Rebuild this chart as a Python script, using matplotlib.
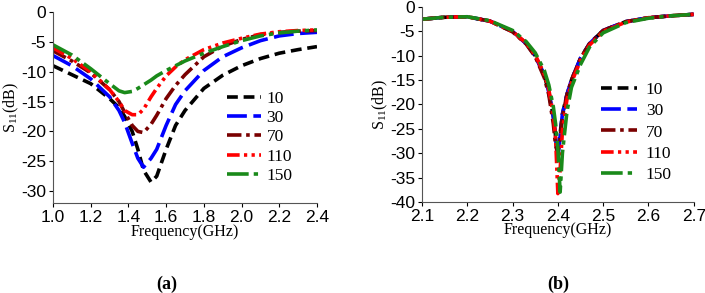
import matplotlib
matplotlib.use("Agg")
import matplotlib.pyplot as plt

# panel (a): S11 vs frequency for five parameter values
FREQ_A = [1.0, 1.1, 1.2, 1.3, 1.35, 1.38, 1.42, 1.45, 1.48, 1.52, 1.55, 1.6, 1.65,
          1.7, 1.8, 1.9, 2.0, 2.1, 2.2, 2.3, 2.4]
S11_A = {
    "10":  [-9.0, -10.5, -12.0, -14.5, -16.0, -17.5, -20.0, -23.0, -26.5, -28.5, -27.5,
            -23.0, -19.0, -16.5, -12.8, -10.6, -9.0, -7.8, -6.9, -6.3, -5.8],
    "30":  [-7.3, -9.0, -11.2, -14.2, -16.5, -18.5, -22.0, -24.5, -26.0, -24.5, -23.0,
            -19.0, -15.5, -13.2, -9.8, -7.5, -6.0, -4.8, -4.0, -3.6, -3.4],
    "70":  [-6.5, -8.2, -10.2, -13.0, -15.0, -16.8, -19.0, -20.0, -20.2, -18.8, -17.3,
            -14.5, -12.3, -10.5, -7.5, -5.7, -4.6, -3.8, -3.4, -3.2, -3.1],
    "110": [-6.0, -7.8, -10.0, -13.0, -15.0, -16.5, -17.2, -17.2, -16.3, -14.2, -12.8,
            -10.7, -9.2, -8.0, -6.3, -5.2, -4.4, -3.7, -3.3, -3.1, -3.0],
    "150": [-5.5, -7.2, -9.5, -12.0, -13.2, -13.5, -13.3, -12.8, -12.2, -11.4, -10.7,
            -9.8, -9.0, -8.2, -6.9, -5.8, -4.8, -4.0, -3.5, -3.2, -3.0],
}

# panel (b)
FREQ_B = [2.1, 2.15, 2.2, 2.25, 2.3, 2.33, 2.35, 2.37, 2.38, 2.39, 2.395, 2.4, 2.405,
          2.41, 2.42, 2.43, 2.45, 2.47, 2.5, 2.55, 2.6, 2.65, 2.7]
S11_B = {
    "10":  [-2.5, -2.1, -2.0, -2.9, -5.0, -7.5, -10.0, -14.0, -17.5, -22.5, -26.5, -30.0,
            -26.0, -22.0, -18.0, -15.0, -10.5, -7.5, -4.8, -3.0, -2.2, -1.8, -1.5],
    "30":  [-2.5, -2.1, -2.0, -2.9, -5.0, -7.5, -10.0, -14.0, -17.5, -22.5, -27.0, -31.0,
            -26.5, -22.0, -18.0, -15.0, -10.5, -7.5, -4.8, -3.0, -2.2, -1.8, -1.5],
    "70":  [-2.5, -2.1, -2.0, -2.9, -5.1, -7.6, -10.2, -14.5, -18.0, -24.0, -28.5, -30.0,
            -27.0, -22.5, -18.0, -15.0, -10.5, -7.5, -4.8, -3.0, -2.2, -1.8, -1.5],
    "110": [-2.5, -2.1, -2.0, -2.9, -5.0, -7.4, -9.8, -13.8, -17.0, -22.0, -27.0, -38.3,
            -33.5, -25.5, -19.0, -15.5, -11.0, -7.8, -5.0, -3.1, -2.2, -1.8, -1.5],
    "150": [-2.5, -2.1, -2.0, -2.8, -4.8, -7.1, -9.4, -13.0, -16.0, -20.5, -24.0, -29.0,
            -38.0, -30.0, -21.5, -16.5, -11.8, -8.2, -5.3, -3.2, -2.3, -1.8, -1.5],
}

LABELS = ["10", "30", "70", "110", "150"]
COLORS = {"10": "#000000", "30": "#0000ff", "70": "#7a0000", "110": "#ff0000", "150": "#1a8a1a"}
DASHES = {
    "10": (0, (3.0, 1.6)),
    "30": (0, (5.5, 1.8)),
    "70": (0, (4.0, 1.3, 1.0, 1.3)),
    "110": (0, (3.5, 1.2, 0.9, 1.2, 0.9, 1.2)),
    "150": (0, (6.0, 1.4, 1.2, 1.4)),
}

SANS = "Liberation Sans"
SERIF = "Liberation Serif"


def style_axes(ax, xlim, xticks, ylim, yticks):
    ax.set_xlim(*xlim)
    ax.set_ylim(*ylim)
    ax.set_xticks(xticks)
    ax.set_xticklabels([f"{t:.1f}" for t in xticks], fontfamily=SANS, fontsize=12.5)
    ax.set_yticks(yticks)
    ax.set_yticklabels([str(t) for t in yticks], fontfamily=SANS, fontsize=12.5)
    ax.tick_params(axis="both", direction="out", length=3, width=0.8, colors="#000000", pad=2)
    for side in ["top", "right"]:
        ax.spines[side].set_visible(False)
    for side in ["left", "bottom"]:
        ax.spines[side].set_color("#555555")
        ax.spines[side].set_linewidth(0.8)
    ax.set_xlabel("Frequency(GHz)", fontfamily=SERIF, fontsize=11.5, labelpad=-1)
    ax.set_ylabel("S$_{11}$(dB)", fontfamily=SERIF, fontsize=11.5, labelpad=0)


def main():
    plt.rcParams["mathtext.fontset"] = "custom"
    plt.rcParams["mathtext.rm"] = SERIF
    plt.rcParams["mathtext.it"] = SERIF
    fig = plt.figure(figsize=(7.05, 2.93), dpi=100)
    fig.patch.set_facecolor("white")

    ax_a = fig.add_axes([0.0752, 0.307, 0.3744, 0.652])
    ax_b = fig.add_axes([0.5986, 0.311, 0.3854, 0.665])

    for lab in LABELS:
        ax_a.plot(FREQ_A, S11_A[lab], color=COLORS[lab], linestyle=DASHES[lab],
                  linewidth=2.6, label=lab)
        ax_b.plot(FREQ_B, S11_B[lab], color=COLORS[lab], linestyle=DASHES[lab],
                  linewidth=2.6, label=lab)

    style_axes(ax_a, (1.0, 2.4), [1.0, 1.2, 1.4, 1.6, 1.8, 2.0, 2.2, 2.4],
               (-32, 0), [-30, -25, -20, -15, -10, -5, 0])
    style_axes(ax_b, (2.1, 2.7), [2.1, 2.2, 2.3, 2.4, 2.5, 2.6, 2.7],
               (-40, 0), [-40, -35, -30, -25, -20, -15, -10, -5, 0])

    ax_a.legend(loc="upper left", bbox_to_anchor=(218 / 705, 1 - 82 / 293),
                bbox_transform=fig.transFigure, frameon=False, handlelength=2.0,
                handletextpad=0.3, labelspacing=0.18, borderpad=0,
                prop={"family": SERIF, "size": 12.5})
    ax_b.legend(loc="upper left", bbox_to_anchor=(592 / 705, 1 - 73 / 293),
                bbox_transform=fig.transFigure, frameon=False, handlelength=2.1,
                handletextpad=0.5, labelspacing=0.3, borderpad=0,
                prop={"family": SERIF, "size": 12.5})

    fig.text(167 / 705, 1 - 284 / 293, "(a)", fontfamily=SERIF, fontweight="bold",
             fontsize=13, ha="center", va="center")
    fig.text(558 / 705, 1 - 284 / 293, "(b)", fontfamily=SERIF, fontweight="bold",
             fontsize=13, ha="center", va="center")

    fig.savefig("out.png", dpi=100)
    plt.close(fig)


if __name__ == "__main__":
    main()
